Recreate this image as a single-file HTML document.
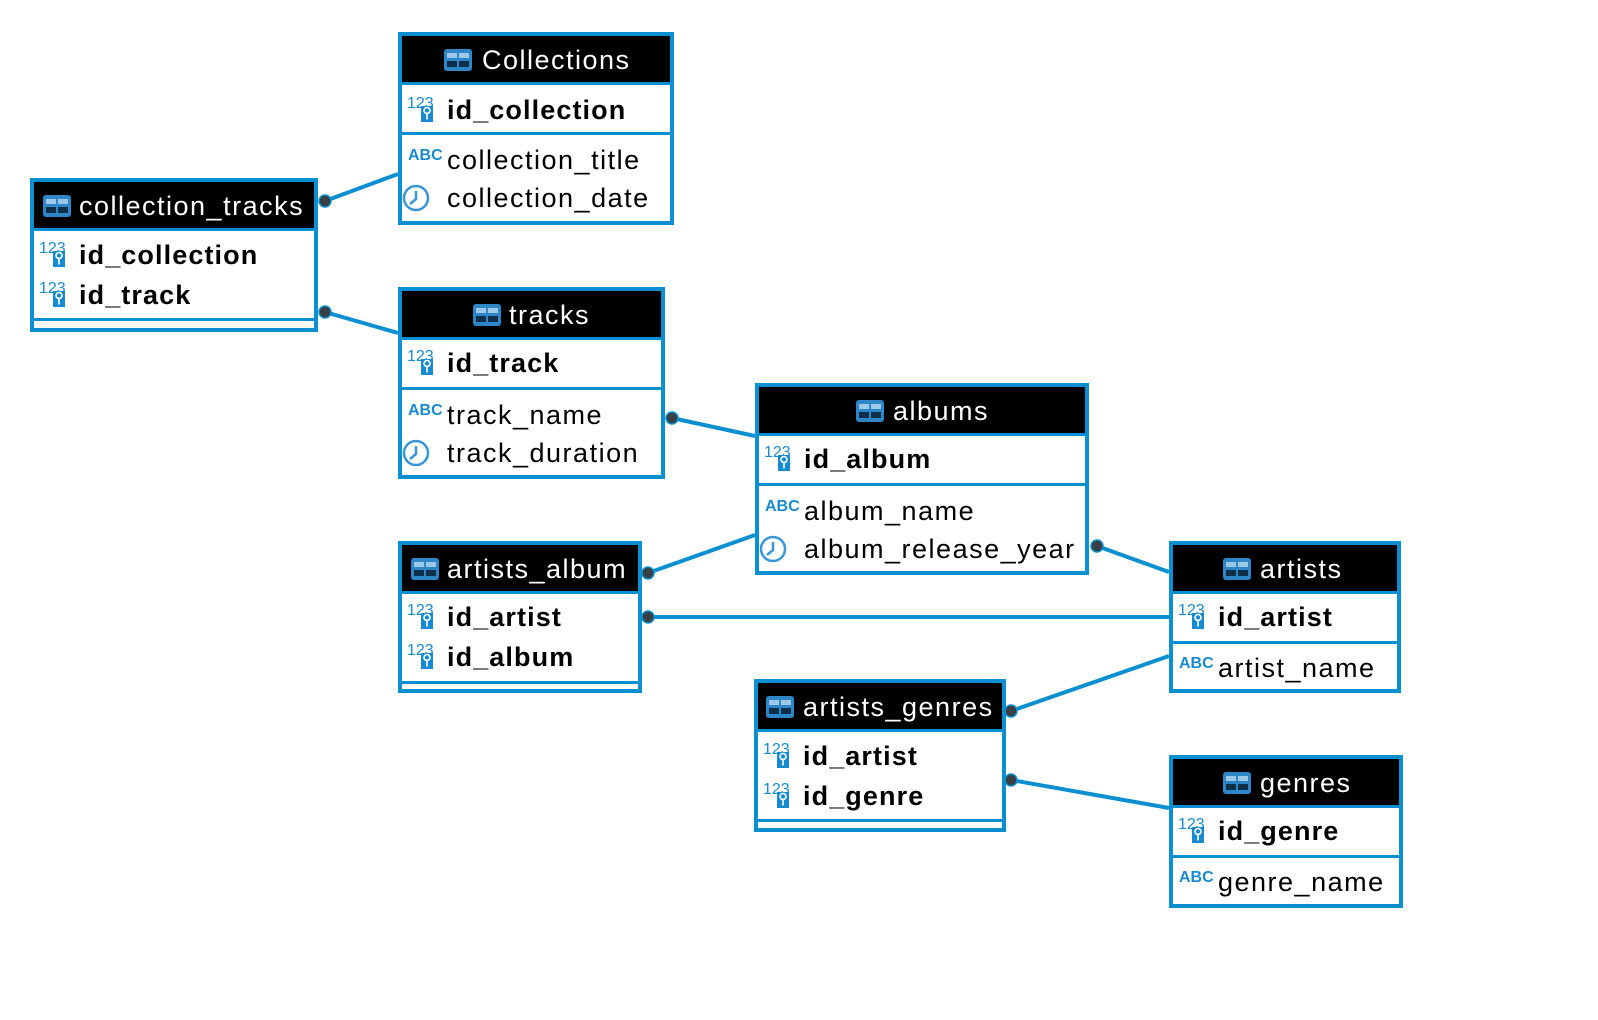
<!DOCTYPE html>
<html><head><meta charset="utf-8"><style>
html,body{margin:0;padding:0;background:#fff;}
svg{display:block;}
text{font-family:"Liberation Sans",sans-serif;}
.h{fill:#fff;font-size:27px;letter-spacing:1.5px;}
.b{fill:#000;font-size:27px;font-weight:bold;letter-spacing:1.1px;}
.r{fill:#000;font-size:27px;letter-spacing:1.5px;}
.ic{fill:#1a8ad0;font-size:12px;font-weight:bold;}
</style></head><body>
<svg width="1598" height="1020" viewBox="0 0 1598 1020" xmlns="http://www.w3.org/2000/svg">
<defs>
<g id="tbl"><rect x="0" y="0" width="28" height="22" rx="3" fill="#2f86c6"/><rect x="3" y="4" width="10" height="5" fill="#9cc8ea"/><rect x="15" y="4" width="10" height="5" fill="#9cc8ea"/><rect x="3" y="12" width="10" height="6" fill="#0d2f4a"/><rect x="15" y="12" width="10" height="6" fill="#0d2f4a"/></g>
<g id="pk"><text x="-1" y="9" class="ic" style="font-weight:normal;font-size:16px">123</text><rect x="13" y="7" width="12" height="16" fill="#1a8ad0"/><circle cx="19" cy="11.5" r="3" fill="none" stroke="#fff" stroke-width="1.6"/><rect x="18.2" y="13.5" width="1.6" height="7" fill="#fff"/></g>
<g id="abc"><text x="0" y="0" class="ic" style="font-size:16px">ABC</text></g>
<g id="clk"><circle cx="14" cy="0" r="12" fill="none" stroke="#3a95d6" stroke-width="2.5"/><path d="M14 -7 V1 L8 6" fill="none" stroke="#3a95d6" stroke-width="2.5"/></g>
</defs>

<g stroke="#0a8fd0" stroke-width="4" fill="none">
<line x1="325" y1="201" x2="398" y2="174"/>
<line x1="325" y1="312" x2="398" y2="333"/>
<line x1="672" y1="418" x2="755" y2="436"/>
<line x1="648" y1="573" x2="755" y2="535"/>
<line x1="648" y1="617" x2="1169" y2="617"/>
<line x1="1097" y1="546" x2="1169" y2="572"/>
<line x1="1011" y1="711" x2="1169" y2="656"/>
<line x1="1011" y1="780" x2="1169" y2="808"/>
</g>

<g transform="translate(398,32)">
<rect x="2" y="2" width="272" height="189" fill="#fff" stroke="#0a8fd0" stroke-width="4"/>
<rect x="4" y="4" width="268" height="46" fill="#000"/>
<rect x="4" y="50" width="268" height="3" fill="#0a8fd0"/>
<rect x="4" y="100" width="268" height="3" fill="#0a8fd0"/>
</g>
<use href="#tbl" x="444" y="49"/><text class="h" x="482" y="69">Collections</text>
<use href="#pk" x="408" y="99"/><text class="b" x="447" y="119">id_collection</text>
<use href="#abc" x="408" y="160"/><text class="r" x="447" y="169">collection_title</text>
<use href="#clk" x="402" y="198"/><text class="r" x="447" y="207">collection_date</text>

<g transform="translate(30,178)">
<rect x="2" y="2" width="284" height="150" fill="#fff" stroke="#0a8fd0" stroke-width="4"/>
<rect x="4" y="4" width="280" height="46" fill="#000"/>
<rect x="4" y="50" width="280" height="3" fill="#0a8fd0"/>
<rect x="4" y="140" width="280" height="3" fill="#0a8fd0"/>
</g>
<use href="#tbl" x="43" y="195"/><text class="h" x="79" y="215">collection_tracks</text>
<use href="#pk" x="40" y="244"/><text class="b" x="79" y="264">id_collection</text>
<use href="#pk" x="40" y="284"/><text class="b" x="79" y="304">id_track</text>

<g transform="translate(398,287)">
<rect x="2" y="2" width="263" height="188" fill="#fff" stroke="#0a8fd0" stroke-width="4"/>
<rect x="4" y="4" width="259" height="46" fill="#000"/>
<rect x="4" y="50" width="259" height="3" fill="#0a8fd0"/>
<rect x="4" y="100" width="259" height="3" fill="#0a8fd0"/>
</g>
<use href="#tbl" x="473" y="304"/><text class="h" x="509" y="324">tracks</text>
<use href="#pk" x="408" y="352"/><text class="b" x="447" y="372">id_track</text>
<use href="#abc" x="408" y="415"/><text class="r" x="447" y="424">track_name</text>
<use href="#clk" x="402" y="453"/><text class="r" x="447" y="462">track_duration</text>

<g transform="translate(755,383)">
<rect x="2" y="2" width="330" height="188" fill="#fff" stroke="#0a8fd0" stroke-width="4"/>
<rect x="4" y="4" width="326" height="46" fill="#000"/>
<rect x="4" y="50" width="326" height="3" fill="#0a8fd0"/>
<rect x="4" y="100" width="326" height="3" fill="#0a8fd0"/>
</g>
<use href="#tbl" x="856" y="400"/><text class="h" x="893" y="420">albums</text>
<use href="#pk" x="765" y="448"/><text class="b" x="804" y="468">id_album</text>
<use href="#abc" x="765" y="511"/><text class="r" x="804" y="520">album_name</text>
<use href="#clk" x="759" y="549"/><text class="r" x="804" y="558">album_release_year</text>

<g transform="translate(398,541)">
<rect x="2" y="2" width="240" height="148" fill="#fff" stroke="#0a8fd0" stroke-width="4"/>
<rect x="4" y="4" width="236" height="46" fill="#000"/>
<rect x="4" y="50" width="236" height="3" fill="#0a8fd0"/>
<rect x="4" y="140" width="236" height="3" fill="#0a8fd0"/>
</g>
<use href="#tbl" x="411" y="558"/><text class="h" x="447" y="578">artists_album</text>
<use href="#pk" x="408" y="606"/><text class="b" x="447" y="626">id_artist</text>
<use href="#pk" x="408" y="646"/><text class="b" x="447" y="666">id_album</text>

<g transform="translate(1169,541)">
<rect x="2" y="2" width="228" height="148" fill="#fff" stroke="#0a8fd0" stroke-width="4"/>
<rect x="4" y="4" width="224" height="46" fill="#000"/>
<rect x="4" y="50" width="224" height="3" fill="#0a8fd0"/>
<rect x="4" y="100" width="224" height="3" fill="#0a8fd0"/>
</g>
<use href="#tbl" x="1223" y="558"/><text class="h" x="1260" y="578">artists</text>
<use href="#pk" x="1179" y="606"/><text class="b" x="1218" y="626">id_artist</text>
<use href="#abc" x="1179" y="668"/><text class="r" x="1218" y="677">artist_name</text>

<g transform="translate(754,679)">
<rect x="2" y="2" width="248" height="149" fill="#fff" stroke="#0a8fd0" stroke-width="4"/>
<rect x="4" y="4" width="244" height="46" fill="#000"/>
<rect x="4" y="50" width="244" height="3" fill="#0a8fd0"/>
<rect x="4" y="140" width="244" height="3" fill="#0a8fd0"/>
</g>
<use href="#tbl" x="766" y="696"/><text class="h" x="803" y="716">artists_genres</text>
<use href="#pk" x="764" y="745"/><text class="b" x="803" y="765">id_artist</text>
<use href="#pk" x="764" y="785"/><text class="b" x="803" y="805">id_genre</text>

<g transform="translate(1169,755)">
<rect x="2" y="2" width="230" height="149" fill="#fff" stroke="#0a8fd0" stroke-width="4"/>
<rect x="4" y="4" width="226" height="46" fill="#000"/>
<rect x="4" y="50" width="226" height="3" fill="#0a8fd0"/>
<rect x="4" y="100" width="226" height="3" fill="#0a8fd0"/>
</g>
<use href="#tbl" x="1223" y="772"/><text class="h" x="1260" y="792">genres</text>
<use href="#pk" x="1179" y="820"/><text class="b" x="1218" y="840">id_genre</text>
<use href="#abc" x="1179" y="882"/><text class="r" x="1218" y="891">genre_name</text>

<g fill="#3a3f44" stroke="#0a8fd0" stroke-width="1.5">
<circle cx="325" cy="201" r="6"/>
<circle cx="325" cy="312" r="6"/>
<circle cx="672" cy="418" r="6"/>
<circle cx="648" cy="573" r="6"/>
<circle cx="648" cy="617" r="6"/>
<circle cx="1097" cy="546" r="6"/>
<circle cx="1011" cy="711" r="6"/>
<circle cx="1011" cy="780" r="6"/>
</g>
</svg>
</body></html>
